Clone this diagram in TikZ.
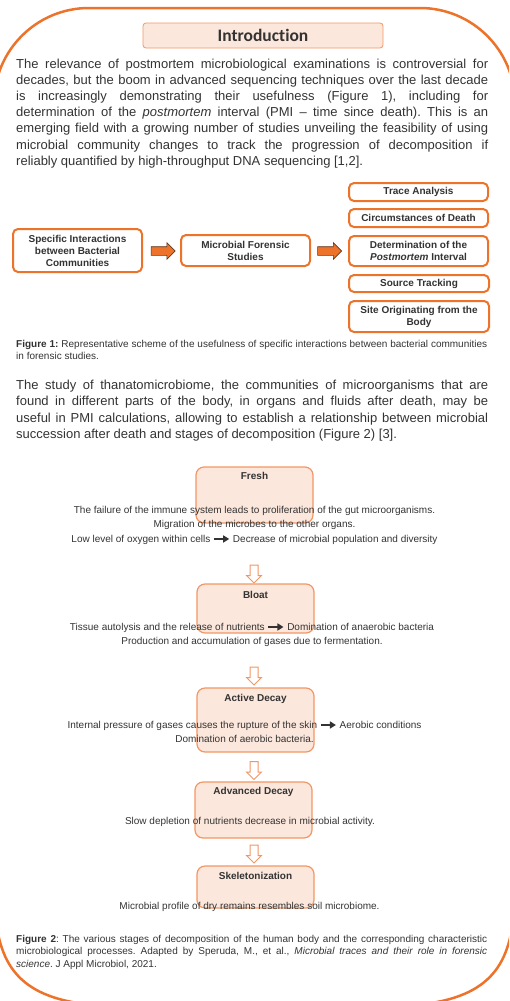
\documentclass[tikz,border=0pt]{standalone}
\usepackage{fontspec}
\setmainfont{Liberation Sans}
\newfontfamily\headfont[Ligatures=NoCommon]{Carlito}
\usepackage{xcolor}
\usetikzlibrary{positioning}
\usetikzlibrary{arrows.meta}
\usetikzlibrary{shapes.arrows}
\definecolor{qorange}{RGB}{237,114,42}
\definecolor{qpeach}{RGB}{252,231,220}
\definecolor{qline}{RGB}{242,150,100}
\definecolor{qtext}{RGB}{51,51,51}
\definecolor{qbrown}{RGB}{95,55,30}
\hyphenpenalty=10000
\exhyphenpenalty=10000
\frenchspacing
\newcommand{\blackarr}{\tikz[baseline=-0.6ex]\draw[qtext, line width=2pt, -{Triangle[length=6pt,width=7pt]}] (0pt,0pt) -- (15pt,0pt);}

\begin{document}
\begin{tikzpicture}[x=1pt, y=-1pt,
  every node/.style={text=qtext},
  para/.style={anchor=north west, inner sep=0pt, text width=472pt, align=justify, font=\fontsize{13}{16.2}\selectfont},
  capt/.style={anchor=north west, inner sep=0pt, text width=471pt, align=justify, font=\fontsize{10}{12.4}\selectfont},
  usebox/.style={draw=qorange, line width=2pt, rounded corners=5pt, fill=white, align=center, inner sep=1pt, font=\bfseries\fontsize{10}{12}\selectfont},
  blockarr/.style={single arrow, draw=qbrown, fill=qorange, line width=0.6pt, minimum height=24pt, minimum width=16pt, single arrow head extend=4pt, inner sep=4pt},
  stagebox/.style={draw=qline, fill=qpeach, line width=1.2pt, rounded corners=8pt, minimum width=117pt, inner sep=0pt},
  stagelab/.style={anchor=base, inner sep=0pt, font=\bfseries\fontsize{10}{12}\selectfont},
  stagetxt/.style={anchor=north, inner sep=0pt, align=center, font=\fontsize{10}{14.5}\selectfont},
  downarr/.style={single arrow, draw=qline, fill=white, line width=1pt, rotate=-90, minimum height=18pt, minimum width=14pt, single arrow head extend=3.5pt, inner sep=3.5pt}
]
\useasboundingbox (0,0) rectangle (509,1001);

%frame:
\begin{scope}
\clip (0,0) rectangle (509,1001);
\draw[qorange, line width=2.5pt] (-6,500) [rounded corners=95pt] -- (-6,8) -- (515,8) -- (515,500)
  [sharp corners] -- (513,920) .. controls (507,975) and (479,1003) .. (399,1006)
  -- (110,1006) .. controls (30,1003) and (2,975) .. (-4,920) -- cycle;
\end{scope}

%header
\node[draw=qline, fill=qpeach, line width=0.8pt, rounded corners=3pt, minimum width=240pt, minimum height=25pt, inner sep=0pt,
  font=\headfont\bfseries\fontsize{17.5}{20}\selectfont] (intro) at (263,35.5) {Introduction};

\node[para] (par1) at (16,58.5) {The relevance of postmortem microbiological examinations is controversial for\linebreak
decades, but the boom in advanced sequencing techniques over the last decade\linebreak
is increasingly demonstrating their usefulness (Figure 1), including for\linebreak
determination of the \textit{postmortem} interval (PMI -- time since death). This is an\linebreak
emerging field with a growing number of studies unveiling the feasibility of using\linebreak
microbial community changes to track the progression of decomposition if\linebreak
reliably quantified by high-throughput DNA sequencing [1,2].};

%figure 1
\node[usebox, minimum width=129pt, minimum height=43pt] (spec) at (77.5,250.5) {Specific Interactions\\between Bacterial\\Communities};
\node[usebox, minimum width=129pt, minimum height=31pt] (mfs) at (245.5,250.5) {Microbial Forensic\\Studies};
\node[usebox, minimum width=139pt, minimum height=18pt] (trace) at (418.5,192) {Trace Analysis};
\node[usebox, minimum width=139pt, minimum height=18pt] (circ) at (418.5,218) {Circumstances of Death};
\node[usebox, minimum width=139pt, minimum height=30pt] (pmi) at (418.5,251) {Determination of the\\\textit{Postmortem} Interval};
\node[usebox, minimum width=140pt, minimum height=17pt] (source) at (419,283.5) {Source Tracking};
\node[usebox, minimum width=140pt, minimum height=31pt] (site) at (419,316.5) {Site Originating from the\\Body};
\node[blockarr] (arr1) at (161,251) {};
\node[blockarr] (arr2) at (327.5,251) {};

\node[capt] (cap1) at (16,340) {\textbf{Figure 1:} Representative scheme of the usefulness of specific interactions between bacterial communities\linebreak
in forensic studies.};

\node[para] (par2) at (16,380) {The study of thanatomicrobiome, the communities of microorganisms that are\linebreak
found in different parts of the body, in organs and fluids after death, may be\linebreak
useful in PMI calculations, allowing to establish a relationship between microbial\linebreak
succession after death and stages of decomposition (Figure 2) [3].};

%figure 2: stages
\node[stagebox, minimum height=56pt] (fresh) at (254.5,495) {};
\node[stagebox, minimum height=49pt] (bloat) at (255.5,608.5) {};
\node[stagebox, minimum height=64pt] (active) at (255.5,720) {};
\node[stagebox, minimum height=56pt] (adv) at (253.5,810) {};
\node[stagebox, minimum height=42pt] (skel) at (255.5,887) {};

\path (fresh.north) ++(0,13.5) node[stagelab] (freshlab) {Fresh};
\path (bloat.north) ++(0,15.5) node[stagelab] (bloatlab) {Bloat};
\path (active.north) ++(0,14.5) node[stagelab] (activelab) {Active Decay};
\path (adv.north) ++(0,13.5) node[stagelab] (advlab) {Advanced Decay};
\path (skel.north) ++(0,14.5) node[stagelab] (skellab) {Skeletonization};

\node[stagetxt] (freshtxt) at (254.5,505.7) {The failure of the immune system leads to proliferation of the gut microorganisms.\\
Migration of the microbes to the other organs.\\
Low level of oxygen within cells \blackarr{} Decrease of microbial population and diversity};
\node[stagetxt] (bloattxt) at (252,622.7) {Tissue autolysis and the release of nutrients \blackarr{} Domination of anaerobic bacteria\\
Production and accumulation of gases due to fermentation.};
\node[stagetxt] (activetxt) at (244.5,720.7) {Internal pressure of gases causes the rupture of the skin \blackarr{} Aerobic conditions\\
Domination of aerobic bacteria.};
\node[stagetxt] (advtxt) at (250,816.7) {Slow depletion of nutrients decrease in microbial activity.};
\node[stagetxt] (skeltxt) at (249.5,901.7) {Microbial profile of dry remains resembles soil microbiome.};

%hollow arrows
\node[downarr] (down1) at (254,572) {};
\node[downarr] (down2) at (254,674) {};
\node[downarr] (down3) at (254,768.5) {};
\node[downarr] (down4) at (254,852) {};

\node[capt] (cap2) at (16,935) {\textbf{Figure 2}: The various stages of decomposition of the human body and the corresponding characteristic\linebreak
microbiological processes. Adapted by Speruda, M., et al., \textit{Microbial traces and their role in forensic}\linebreak
\textit{science}. J Appl Microbiol, 2021.};

\end{tikzpicture}
\end{document}
